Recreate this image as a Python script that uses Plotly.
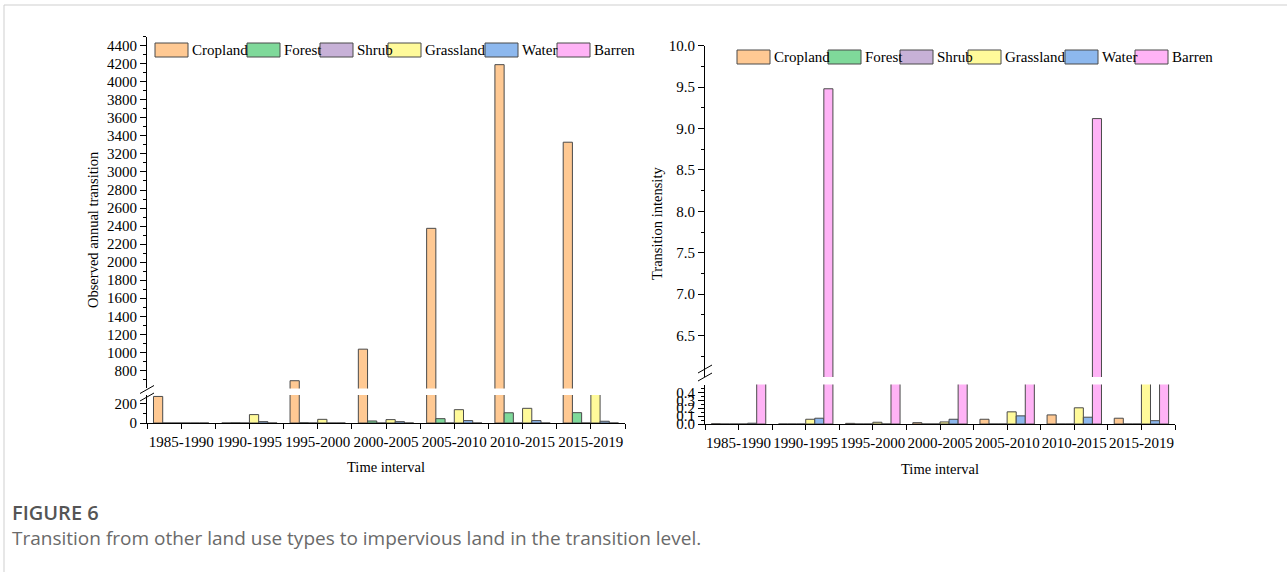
import plotly.graph_objects as go

W, H = 1287, 572

periods = ["1985-1990", "1990-1995", "1995-2000", "2000-2005",
           "2005-2010", "2010-2015", "2015-2019"]
land_types = ["Cropland", "Forest", "Shrub", "Grassland", "Water", "Barren"]

# Observed annual transition to impervious land (left panel)
obs_cropland = [275, 0, 685, 1035, 2375, 4190, 3330]
obs_forest = [0, 2, 3, 21, 45, 106, 107]
obs_shrub = [0, 0, 0, 0, 0, 0, 0]
obs_grassland = [0, 87, 38, 35, 138, 152, 430]
obs_water = [0, 14, 0, 14, 25, 25, 18]
obs_barren = [0, 0, 0, 0, 0, 0, 0]

# Transition intensity (right panel)
int_cropland = [0.003, 0.0, 0.008, 0.017, 0.06, 0.115, 0.073]
int_forest = [0, 0, 0, 0, 0, 0, 0]
int_shrub = [0, 0, 0, 0, 0, 0, 0]
int_grassland = [0.0, 0.06, 0.022, 0.026, 0.154, 0.205, 0.85]
int_water = [0.01, 0.073, 0.0, 0.06, 0.103, 0.086, 0.042]
int_barren = [1.8, 9.48, 2.1, 1.6, 2.4, 9.12, 1.9]

observed = [obs_cropland, obs_forest, obs_shrub, obs_grassland, obs_water, obs_barren]
intensity = [int_cropland, int_forest, int_shrub, int_grassland, int_water, int_barren]

fills = ["#FFC993", "#7FD99A", "#C7B1D7", "#FFFA9A", "#8DB8EE", "#FFB3F6"]
EDGE = "#4a4a4a"
SERIF = "Liberation Serif, Times New Roman, serif"
SANS = "Open Sans, Noto Sans, sans-serif"


def px(x):
    return x / W


def py(y):
    return 1 - y / H


fig = go.Figure()

# Each series is drawn on both segments of its broken axis
for name, vals, col in zip(land_types, observed, fills):
    for ya in ("y", "y2"):
        fig.add_trace(go.Bar(x=list(range(len(periods))), y=vals, name=name,
                             xaxis="x", yaxis=ya, showlegend=False,
                             marker=dict(color=col, line=dict(color=EDGE, width=1))))
for name, vals, col in zip(land_types, intensity, fills):
    for ya in ("y3", "y4"):
        fig.add_trace(go.Bar(x=list(range(len(periods))), y=vals, name=name,
                             xaxis="x2", yaxis=ya, showlegend=False,
                             marker=dict(color=col, line=dict(color=EDGE, width=1))))

tickfont = dict(family=SERIF, size=15, color="black")
common_y = dict(showline=True, linecolor="black", linewidth=1, ticks="outside",
                ticklen=6, tickcolor="black", showgrid=False, zeroline=False,
                tickfont=tickfont, fixedrange=True, automargin=False)


def xaxis_cfg(left, right, anchor):
    return dict(domain=[px(left), px(right)], anchor=anchor, range=[-0.5, 6.5],
                tickmode="array", tickvals=list(range(7)), ticktext=periods,
                showline=True, linecolor="black", linewidth=1, ticks="outside",
                ticklen=5, tickcolor="black", showgrid=False, zeroline=False,
                tickfont=tickfont, tickangle=0, automargin=False,
                minor=dict(tickmode="array", tickvals=[i - 0.5 for i in range(8)],
                           ticks="outside", ticklen=5, tickcolor="black"))


fig.update_layout(
    width=W, height=H, margin=dict(l=0, r=0, t=0, b=0, autoexpand=False),
    paper_bgcolor="white", plot_bgcolor="rgba(0,0,0,0)",
    barmode="group", bargap=0.19, bargroupgap=0,
    showlegend=False,
    xaxis=xaxis_cfg(147, 625, "y2"),
    xaxis2=xaxis_cfg(705, 1175, "y4"),
    yaxis=dict(domain=[py(388.4), py(36.7)], anchor="x", range=[600, 4500],
               tickmode="array", tickvals=list(range(800, 4401, 200)),
               minor=dict(tickmode="array", tickvals=list(range(700, 4501, 200)),
                          ticks="outside", ticklen=3, tickcolor="black"),
               **common_y),
    yaxis2=dict(domain=[py(423), py(395)], anchor="x", range=[0, 290],
                tickmode="array", tickvals=[0, 200],
                minor=dict(tickmode="array", tickvals=[100],
                           ticks="outside", ticklen=3, tickcolor="black"),
                **common_y),
    yaxis3=dict(domain=[py(377), py(45.7)], anchor="x2", range=[6.0, 10.0],
                tickmode="array", tickvals=[6.5, 7.0, 7.5, 8.0, 8.5, 9.0, 9.5, 10.0],
                ticktext=["6.5", "7.0", "7.5", "8.0", "8.5", "9.0", "9.5", "10.0"],
                minor=dict(tickmode="array",
                           tickvals=[6.25, 6.75, 7.25, 7.75, 8.25, 8.75, 9.25, 9.75],
                           ticks="outside", ticklen=3, tickcolor="black"),
                **common_y),
    yaxis4=dict(domain=[py(424), py(384.5)], anchor="x2", range=[0, 0.5],
                tickmode="array", tickvals=[0, 0.1, 0.2, 0.3, 0.4],
                ticktext=["0.0", "0.1", "0.2", "0.3", "0.4"],
                minor=dict(tickmode="array", tickvals=[0.05, 0.15, 0.25, 0.35, 0.45],
                           ticks="outside", ticklen=3, tickcolor="black"),
                **common_y),
)

shapes = []
annotations = []


def line(x0, y0, x1, y1, color="black", width=1):
    shapes.append(dict(type="line", xref="paper", yref="paper",
                       x0=px(x0), y0=py(y0), x1=px(x1), y1=py(y1),
                       line=dict(color=color, width=width)))


def text(x, y, s, size=15, family=SERIF, color="black", xanchor="center",
         textangle=0, weight=None):
    f = dict(family=family, size=size, color=color)
    if weight:
        f["weight"] = weight
    annotations.append(dict(x=px(x), y=py(y), xref="paper", yref="paper", text=s,
                            showarrow=False, xanchor=xanchor, yanchor="middle",
                            textangle=textangle, font=f))


# outer panel border
line(4, 5, 1287, 5, color="#cfcfcf")
line(4, 5, 4, 572, color="#cfcfcf")

# axis break marks
line(140, 393.5, 154, 385.5)
line(140, 401, 154, 393)
line(698, 373, 712, 365)
line(698, 381, 712, 373)

# legends
left_legend = [155, 247, 320, 388, 485, 557]
right_legend = [737, 828, 900, 968, 1065, 1135]
for xs, yc in ((left_legend, 50), (right_legend, 57)):
    for x0, name, col in zip(xs, land_types, fills):
        shapes.append(dict(type="rect", xref="paper", yref="paper",
                           x0=px(x0), x1=px(x0 + 33), y0=py(yc + 7), y1=py(yc - 7),
                           fillcolor=col, line=dict(color=EDGE, width=1)))
        text(x0 + 35, yc, name, xanchor="left")

# axis titles
text(93, 230, "Observed annual transition", size=14.5, textangle=-90)
text(657, 224, "Transition intensity", size=14.5, textangle=-90)
text(386, 467, "Time interval", size=14.5)
text(940, 469, "Time interval", size=14.5)

# caption
text(10, 512, "FIGURE 6", size=20, family=SANS, color="#555555",
     xanchor="left", weight=600)
text(10, 538, "Transition from other land use types to impervious land in the transition level.",
     size=19, family=SANS, color="#6a6a6a", xanchor="left")

fig.update_layout(shapes=shapes, annotations=annotations)
fig.write_html("out.html")
